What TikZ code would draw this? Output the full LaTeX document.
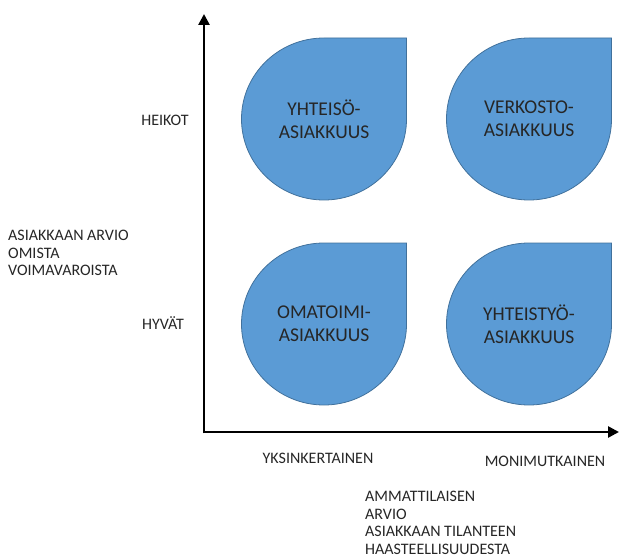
\documentclass[tikz,border=0pt]{standalone}
\usepackage{fontspec}
\setmainfont{Carlito}
\usetikzlibrary{arrows.meta}

\definecolor{dropblue}{HTML}{5B9BD5}
\definecolor{dropedge}{HTML}{41719C}

\tikzset{
    drop/.style={fill=dropblue, draw=dropedge, line width=0.8pt},
    droplabel/.style={align=center, text=black!85, font=\fontsize{19.5}{23.4}\selectfont},
    axislabel/.style={text=black!85, inner sep=0pt, font=\fontsize{16}{17.6}\selectfont},
    axisline/.style={line width=2.6pt, -{Triangle[width=11pt,length=11pt]}}
}

\begin{document}
\begin{tikzpicture}[x=1pt,y=-1pt]
    \useasboundingbox (0,0) rectangle (619,559);

    % Axes
    \coordinate (origin) at (204,432);
    \coordinate (corner) at (204,433.3);
    \coordinate (ytip) at (204,14);
    \coordinate (xtip) at (619,432);
    \draw[axisline] (corner) -- (ytip);
    \draw[axisline] (origin) -- (xtip);

    % The four drops: centre x / centre y / name / text
    \def\rx{82.5}
    \def\ry{81}
    \foreach \cx/\cy/\nm/\txt in {324/119/yhteiso/{YHTEISÖ-\\ASIAKKUUS},
                                  529/119/verkosto/{VERKOSTO-\\ASIAKKUUS},
                                  324/324/omatoimi/{OMATOIMI-\\ASIAKKUUS},
                                  529/324/yhteistyo/{YHTEISTYÖ-\\ASIAKKUUS}}{
        \draw[drop] (\cx,\cy-\ry) -- (\cx+\rx,\cy-\ry) -- (\cx+\rx,\cy)
            arc[start angle=0, end angle=270, x radius=\rx, y radius=\ry] -- cycle;
        \node[droplabel] (\nm) at (\cx,\cy) {\txt};
    }

    % Labels of the vertical axis
    \node[axislabel] (heikot) at (165,120) {HEIKOT};
    \node[axislabel] (hyvat) at (163,323) {HYVÄT};
    \node[axislabel, anchor=north west, align=left] (voimavarat) at (8,230)
        {ASIAKKAAN ARVIO\\OMISTA\\VOIMAVAROISTA};

    % Labels of the horizontal axis
    \node[axislabel] (yksinkertainen) at (318,458) {YKSINKERTAINEN};
    \node[axislabel] (monimutkainen) at (545,461) {MONIMUTKAINEN};
    \node[axislabel, anchor=north west, align=left] (ammattilainen) at (365,491)
        {AMMATTILAISEN\\ARVIO\\ASIAKKAAN TILANTEEN\\HAASTEELLISUUDESTA};
\end{tikzpicture}
\end{document}
